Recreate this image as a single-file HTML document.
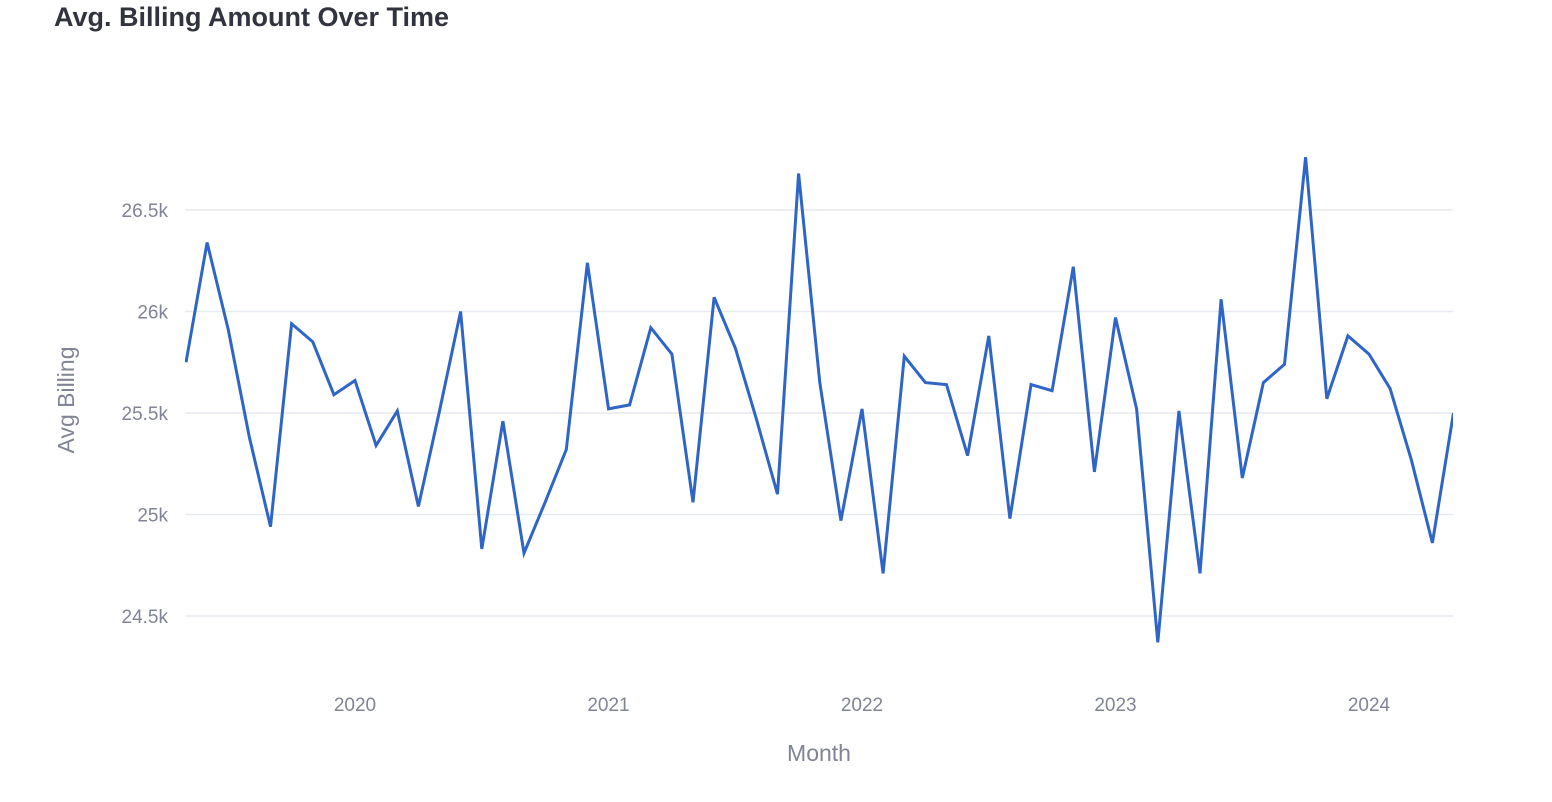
<!DOCTYPE html>
<html><head><meta charset="utf-8">
<style>
html,body{margin:0;padding:0;background:#fff;width:1552px;height:802px;overflow:hidden;font-family:"Liberation Sans",sans-serif;}
#title{position:absolute;left:54px;top:2px;font-size:27px;font-weight:bold;color:#31333f;}
svg{position:absolute;left:0;top:0;}
</style></head><body>
<div id="title">Avg. Billing Amount Over Time</div>
<svg id="chart" width="1552" height="802"></svg>
<script>
const startYear = 2019, startMonth = 4; // May 2019 (0-based month)
const values = [25.75,26.34,25.91,25.38,24.94,25.94,25.85,25.59,25.66,25.34,25.51,25.04,25.51,26.0,24.83,25.46,24.81,25.06,25.32,26.24,25.52,25.54,25.92,25.79,25.06,26.07,25.82,25.47,25.10,26.68,25.65,24.97,25.52,24.71,25.78,25.65,25.64,25.29,25.88,24.98,25.64,25.61,26.22,25.21,25.97,25.52,24.37,25.51,24.71,26.06,25.18,25.65,25.74,26.76,25.57,25.88,25.79,25.62,25.27,24.86,25.50];
const yTicks = [24.5,25,25.5,26,26.5];
const yTickLabels = ["24.5k","25k","25.5k","26k","26.5k"];
const xTicks = [2020,2021,2022,2023,2024];

const NS="http://www.w3.org/2000/svg";
const svg=document.getElementById('chart');
const x0=185,x1=1453;
// month index (months since Jan 2020) -> px
function xm(m){return 355+m*(253.5/12);}
function xs(i){return xm(i+(startYear-2020)*12+startMonth);}
function ys(v){return 210+(26.5-v)*203;}
function mk(tag,attrs){const e=document.createElementNS(NS,tag);for(const k in attrs)e.setAttribute(k,attrs[k]);svg.appendChild(e);return e;}
yTicks.forEach((t,i)=>{
  const g=mk('line',{x1:x0,x2:x1,y1:ys(t),y2:ys(t),stroke:'#e6e9ef','stroke-width':1.5});
  
  
  const tx=mk('text',{x:168,y:ys(t)+7,'text-anchor':'end','font-size':19,fill:'#808495','font-family':'Liberation Sans, sans-serif'});
  tx.textContent=yTickLabels[i];
  
  
});
xTicks.forEach(yr=>{
  const tx=mk('text',{x:xm((yr-2020)*12),y:711,'text-anchor':'middle','font-size':19,fill:'#808495','font-family':'Liberation Sans, sans-serif'});
  tx.textContent=String(yr);
  
  
});
const xt=mk('text',{x:819,y:761,'text-anchor':'middle','font-size':23,fill:'#808495','font-family':'Liberation Sans, sans-serif'});
xt.textContent='Month';


const yt=mk('text',{x:0,y:0,'text-anchor':'middle','font-size':23,fill:'#808495','font-family':'Liberation Sans, sans-serif',transform:'translate(74,400) rotate(-90)'});
yt.textContent='Avg Billing';


const defs=mk('defs',{});
const cp=document.createElementNS(NS,'clipPath');cp.setAttribute('id','clip');
const r=document.createElementNS(NS,'rect');r.setAttribute('x',x0);r.setAttribute('y',100);r.setAttribute('width',x1-x0);r.setAttribute('height',600);
cp.appendChild(r);defs.appendChild(cp);
const d=values.map((v,i)=>(i?'L':'M')+xs(i).toFixed(1)+','+ys(v).toFixed(1)).join(' ');
const p=mk('path',{d:d,fill:'none',stroke:'#2e65c6','stroke-width':3,'stroke-linejoin':'miter','clip-path':'url(#clip)'});


</script>
</body></html>
